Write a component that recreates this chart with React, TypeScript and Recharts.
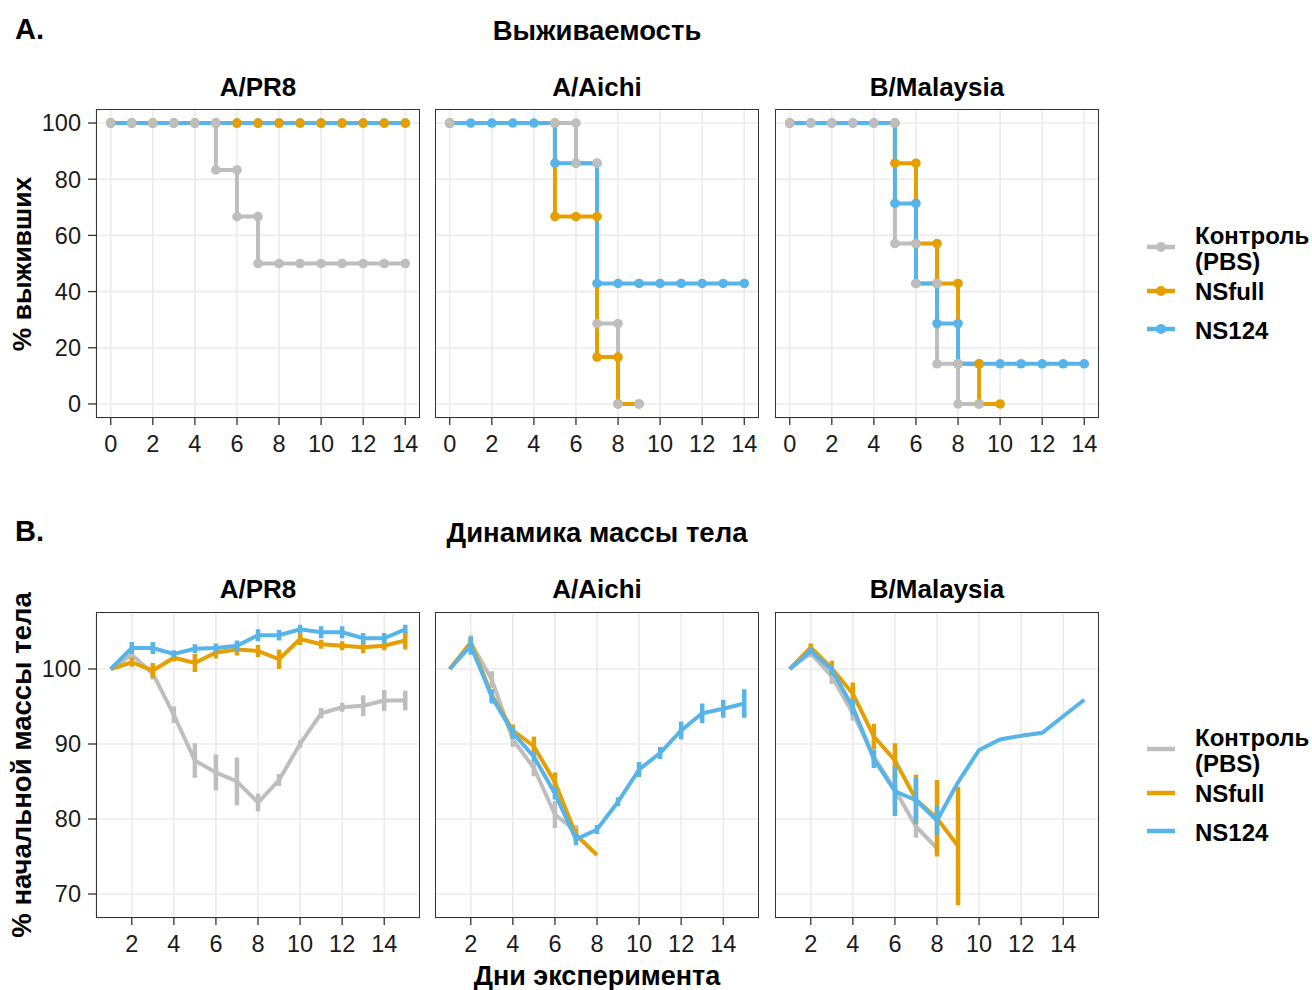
import React from "react";
import { LineChart, Line, XAxis, YAxis, CartesianGrid, ErrorBar } from "recharts";

const STRAINS = ["A/PR8", "A/Aichi", "B/Malaysia"];
const COLORS = ["#BEBEBE", "#E69F00", "#56B4E9"];

const SURV_X_TICKS = [0, 2, 4, 6, 8, 10, 12, 14];
const SURV_Y_TICKS = [0, 20, 40, 60, 80, 100];
const MASS_X_TICKS = [2, 4, 6, 8, 10, 12, 14];
const MASS_Y_TICKS = [70, 80, 90, 100];

// survival curves: plotted step vertices (day, % alive)
const PR8_CTRL_DAY = [0, 1, 2, 3, 4, 5, 5, 6, 6, 7, 7, 8, 9, 10, 11, 12, 13, 14];
const PR8_CTRL_PCT = [100, 100, 100, 100, 100, 100, 83.3, 83.3, 66.7, 66.7, 50, 50, 50, 50, 50, 50, 50, 50];
const PR8_FULL_DAY = [0, 1, 2, 3, 4, 5, 6, 7, 8, 9, 10, 11, 12, 13, 14];
const PR8_FULL_PCT = [100, 100, 100, 100, 100, 100, 100, 100, 100, 100, 100, 100, 100, 100, 100];
const PR8_NS_DAY = [0, 1, 2, 3, 4, 5, 6, 7, 8, 9, 10, 11, 12, 13, 14];
const PR8_NS_PCT = [100, 100, 100, 100, 100, 100, 100, 100, 100, 100, 100, 100, 100, 100, 100];

const AICHI_CTRL_DAY = [0, 5, 6, 6, 7, 7, 8, 8, 9];
const AICHI_CTRL_PCT = [100, 100, 100, 85.7, 85.7, 28.6, 28.6, 0, 0];
const AICHI_FULL_DAY = [0, 5, 5, 6, 7, 7, 8, 8, 9];
const AICHI_FULL_PCT = [100, 100, 66.7, 66.7, 66.7, 16.7, 16.7, 0, 0];
const AICHI_NS_DAY = [0, 1, 2, 3, 4, 5, 5, 6, 7, 7, 8, 9, 10, 11, 12, 13, 14];
const AICHI_NS_PCT = [100, 100, 100, 100, 100, 100, 85.7, 85.7, 85.7, 42.9, 42.9, 42.9, 42.9, 42.9, 42.9, 42.9, 42.9];

const MAL_CTRL_DAY = [0, 1, 2, 3, 4, 5, 5, 6, 6, 7, 7, 8, 8, 9];
const MAL_CTRL_PCT = [100, 100, 100, 100, 100, 100, 57.1, 57.1, 42.9, 42.9, 14.3, 14.3, 0, 0];
const MAL_FULL_DAY = [0, 5, 5, 6, 6, 7, 7, 8, 8, 9, 9, 10];
const MAL_FULL_PCT = [100, 100, 85.7, 85.7, 57.1, 57.1, 42.9, 42.9, 14.3, 14.3, 0, 0];
const MAL_NS_DAY = [0, 1, 2, 3, 4, 5, 5, 6, 6, 7, 7, 8, 8, 9, 10, 11, 12, 13, 14];
const MAL_NS_PCT = [100, 100, 100, 100, 100, 100, 71.4, 71.4, 42.9, 42.9, 28.6, 28.6, 14.3, 14.3, 14.3, 14.3, 14.3, 14.3, 14.3];

// body mass, % of initial: mean and error by day
const DAYS = [1, 2, 3, 4, 5, 6, 7, 8, 9, 10, 11, 12, 13, 14, 15];

const PR8_CTRL_MEAN = [100, 101.9, 99.4, 93.9, 87.8, 86.2, 85.0, 82.2, 85.2, 90.0, 94.1, 94.9, 95.1, 95.8, 95.8];
const PR8_CTRL_ERR = [0, 0.5, 0.8, 1.1, 2.3, 2.4, 3.2, 1.2, 0.8, 0.5, 0.7, 0.6, 1.4, 1.4, 1.3];
const PR8_FULL_MEAN = [100, 100.9, 99.8, 101.5, 100.8, 102.2, 102.6, 102.4, 101.3, 104.0, 103.3, 103.1, 102.9, 103.1, 103.8];
const PR8_FULL_ERR = [0, 0.6, 1.0, 0.5, 1.2, 0.8, 0.8, 0.8, 1.3, 0.8, 0.6, 0.6, 0.8, 0.6, 1.2];
const PR8_NS_MEAN = [100, 102.8, 102.8, 102.0, 102.7, 102.8, 103.1, 104.5, 104.5, 105.3, 104.9, 104.9, 104.1, 104.1, 105.3];
const PR8_NS_ERR = [0, 0.8, 0.8, 0.5, 0.6, 0.6, 0.7, 0.8, 0.7, 0.6, 0.8, 0.8, 0.7, 0.7, 0.6];

const AICHI_CTRL_MEAN = [100, 103.5, 98.6, 90.6, 86.8, 80.6, 78.4];
const AICHI_CTRL_ERR = [0, 1.0, 1.1, 1.0, 1.1, 1.8, 0.8];
const AICHI_FULL_MEAN = [100, 103.5, 96.5, 91.8, 89.7, 84.9, 77.9, 75.2];
const AICHI_FULL_ERR = [0, 0.5, 0.8, 0.8, 1.3, 1.3, 0.8, 0];
const AICHI_NS_MEAN = [100, 103.1, 96.3, 91.5, 88.3, 83.4, 77.3, 78.6, 82.3, 86.6, 88.8, 91.8, 94.1, 94.7, 95.4];
const AICHI_NS_ERR = [0, 1.2, 0.9, 0.8, 0.6, 0.8, 0.8, 0.6, 0.6, 1.0, 0.8, 1.2, 1.3, 1.2, 1.9];

const MAL_CTRL_MEAN = [100, 102.1, 99.0, 94.1, 88.3, 83.9, 79.0, 76.1];
const MAL_CTRL_ERR = [0, 0.5, 1.0, 1.0, 1.0, 2.0, 1.5, 0.5];
const MAL_FULL_MEAN = [100, 102.9, 100.1, 96.7, 91.0, 87.8, 82.6, 80.1, 76.4];
const MAL_FULL_ERR = [0, 0.5, 1.0, 1.5, 1.7, 2.3, 3.3, 5.1, 7.9];
const MAL_NS_MEAN = [100, 102.4, 99.9, 94.9, 88.0, 83.7, 82.5, 79.8, 84.9, 89.2, 90.6, 91.1, 91.5, 93.7, 95.9];
const MAL_NS_ERR = [0, 0.4, 0.6, 1.0, 1.2, 3.3, 3.0, 1.9, 0, 0, 0, 0, 0, 0, 0];

const pts = (days: number[], vals: number[]) => days.map((x, i) => ({ x, y: vals[i] }));
const mass = (m: number[], e: number[]) => m.map((y, i) => ({ x: DAYS[i], y, e: e[i] }));

const SURV = [
  [pts(PR8_CTRL_DAY, PR8_CTRL_PCT), pts(PR8_FULL_DAY, PR8_FULL_PCT), pts(PR8_NS_DAY, PR8_NS_PCT)],
  [pts(AICHI_CTRL_DAY, AICHI_CTRL_PCT), pts(AICHI_FULL_DAY, AICHI_FULL_PCT), pts(AICHI_NS_DAY, AICHI_NS_PCT)],
  [pts(MAL_CTRL_DAY, MAL_CTRL_PCT), pts(MAL_FULL_DAY, MAL_FULL_PCT), pts(MAL_NS_DAY, MAL_NS_PCT)],
];

const MASS = [
  [mass(PR8_CTRL_MEAN, PR8_CTRL_ERR), mass(PR8_FULL_MEAN, PR8_FULL_ERR), mass(PR8_NS_MEAN, PR8_NS_ERR)],
  [mass(AICHI_CTRL_MEAN, AICHI_CTRL_ERR), mass(AICHI_FULL_MEAN, AICHI_FULL_ERR), mass(AICHI_NS_MEAN, AICHI_NS_ERR)],
  [mass(MAL_CTRL_MEAN, MAL_CTRL_ERR), mass(MAL_FULL_MEAN, MAL_FULL_ERR), mass(MAL_NS_MEAN, MAL_NS_ERR)],
];

const PANEL_LEFT = [96, 435, 775];
const PANEL_W = 324;
const TOP_Y = 109;
const TOP_H = 309;
const BOT_Y = 612;
const BOT_H = 306;
const FONT = '"Liberation Sans", Arial, sans-serif';
const INK = "#1a1a1a";

function Facet({ col, top, h, xDomain, xTicks, yDomain, yTicks, children }: any) {
  const yw = col === 0 ? 64 : 0;
  return (
    <div style={{ position: "absolute", left: PANEL_LEFT[col] - yw, top }}>
      <LineChart width={yw + PANEL_W} height={h + 40} margin={{ top: 0, right: 0, bottom: 0, left: 0 }}>
        <CartesianGrid stroke="#EBEBEB" strokeWidth={1.6} />
        <XAxis
          type="number"
          dataKey="x"
          domain={xDomain}
          ticks={xTicks}
          interval={0}
          allowDataOverflow
          height={40}
          axisLine={false}
          tickLine={{ stroke: "#333", strokeWidth: 1.3 }}
          tickSize={7}
          tickMargin={10}
          tick={{ fontSize: 23.5, fill: INK }}
        />
        <YAxis
          type="number"
          domain={yDomain}
          ticks={yTicks}
          interval={0}
          allowDataOverflow
          width={yw}
          hide={col !== 0}
          axisLine={false}
          tickLine={{ stroke: "#333", strokeWidth: 1.3 }}
          tickSize={8}
          tickMargin={7}
          tick={{ fontSize: 23.5, fill: INK }}
        />
        {children}
      </LineChart>
      <div
        style={{
          position: "absolute",
          left: yw,
          top: 0,
          width: PANEL_W,
          height: h,
          border: "1.4px solid #333",
          boxSizing: "border-box",
          pointerEvents: "none",
        }}
      />
    </div>
  );
}

function LegendBlock({ y0, dots }: { y0: number; dots: boolean }) {
  const rows = [
    { key: y0 + 11, labels: ["Контроль", "(PBS)"], base: [y0 + 8, y0 + 34] },
    { key: y0 + 55, labels: ["NSfull"], base: [y0 + 64] },
    { key: y0 + 93, labels: ["NS124"], base: [y0 + 103] },
  ];
  return (
    <g>
      {rows.map((r, i) => (
        <g key={i}>
          <line x1={1147} x2={1175} y1={r.key} y2={r.key} stroke={COLORS[i]} strokeWidth={4.5} />
          {dots && <circle cx={1161} cy={r.key} r={5} fill={COLORS[i]} />}
          {r.labels.map((t, j) => (
            <text key={j} x={1195} y={r.base[j]} fontSize={24} fontWeight="bold" fill="#000">
              {t}
            </text>
          ))}
        </g>
      ))}
    </g>
  );
}

export default function App() {
  return (
    <div style={{ position: "absolute", left: 0, top: 0, width: 1312, height: 990, background: "#fff", fontFamily: FONT }}>
      <svg width={1312} height={990} style={{ position: "absolute", left: 0, top: 0 }} fontFamily={FONT}>
        <text x={15} y={39} fontSize={29} fontWeight="bold">A.</text>
        <text x={597} y={40} fontSize={27.5} fontWeight="bold" textAnchor="middle">Выживаемость</text>
        <text x={15} y={541} fontSize={29} fontWeight="bold">B.</text>
        <text x={597} y={542} fontSize={27.5} fontWeight="bold" textAnchor="middle">Динамика массы тела</text>
        <text x={597} y={985} fontSize={27} fontWeight="bold" textAnchor="middle">Дни эксперимента</text>
        {STRAINS.map((s, c) => (
          <g key={s}>
            <text x={PANEL_LEFT[c] + PANEL_W / 2} y={96} fontSize={26} fontWeight="bold" textAnchor="middle">{s}</text>
            <text x={PANEL_LEFT[c] + PANEL_W / 2} y={598} fontSize={26} fontWeight="bold" textAnchor="middle">{s}</text>
          </g>
        ))}
        <text transform="translate(31,264) rotate(-90)" fontSize={26.5} fontWeight="bold" textAnchor="middle">% выживших</text>
        <text transform="translate(31,765) rotate(-90)" fontSize={27.5} fontWeight="bold" textAnchor="middle">% начальной массы тела</text>
        <LegendBlock y0={236} dots />
        <LegendBlock y0={738} dots={false} />
      </svg>

      {STRAINS.map((s, c) => (
        <Facet key={"s" + s} col={c} top={TOP_Y} h={TOP_H} xDomain={[-0.7, 14.7]} xTicks={SURV_X_TICKS} yDomain={[-5, 105]} yTicks={SURV_Y_TICKS}>
          {[2, 1, 0].map((g) => (
            <Line
              key={"d" + g}
              data={SURV[c][g]}
              dataKey="y"
              stroke="none"
              strokeWidth={0}
              dot={{ r: 4.8, fill: COLORS[g], stroke: COLORS[g], strokeWidth: 0 }}
              activeDot={false}
              isAnimationActive={false}
            />
          ))}
          {[0, 1, 2].map((g) => (
            <Line
              key={"l" + g}
              data={SURV[c][g]}
              dataKey="y"
              type="linear"
              stroke={COLORS[g]}
              strokeWidth={4}
              dot={false}
              activeDot={false}
              isAnimationActive={false}
            />
          ))}
        </Facet>
      ))}

      {STRAINS.map((s, c) => (
        <Facet key={"m" + s} col={c} top={BOT_Y} h={BOT_H} xDomain={[0.3, 15.7]} xTicks={MASS_X_TICKS} yDomain={[66.8, 107.6]} yTicks={MASS_Y_TICKS}>
          {[0, 1, 2].map((g) => (
            <Line
              key={"m" + g}
              data={MASS[c][g]}
              dataKey="y"
              type="linear"
              stroke={COLORS[g]}
              strokeWidth={4}
              dot={false}
              activeDot={false}
              isAnimationActive={false}
            >
              <ErrorBar dataKey="e" width={0} strokeWidth={4.5} stroke={COLORS[g]} direction="y" />
            </Line>
          ))}
        </Facet>
      ))}
    </div>
  );
}
